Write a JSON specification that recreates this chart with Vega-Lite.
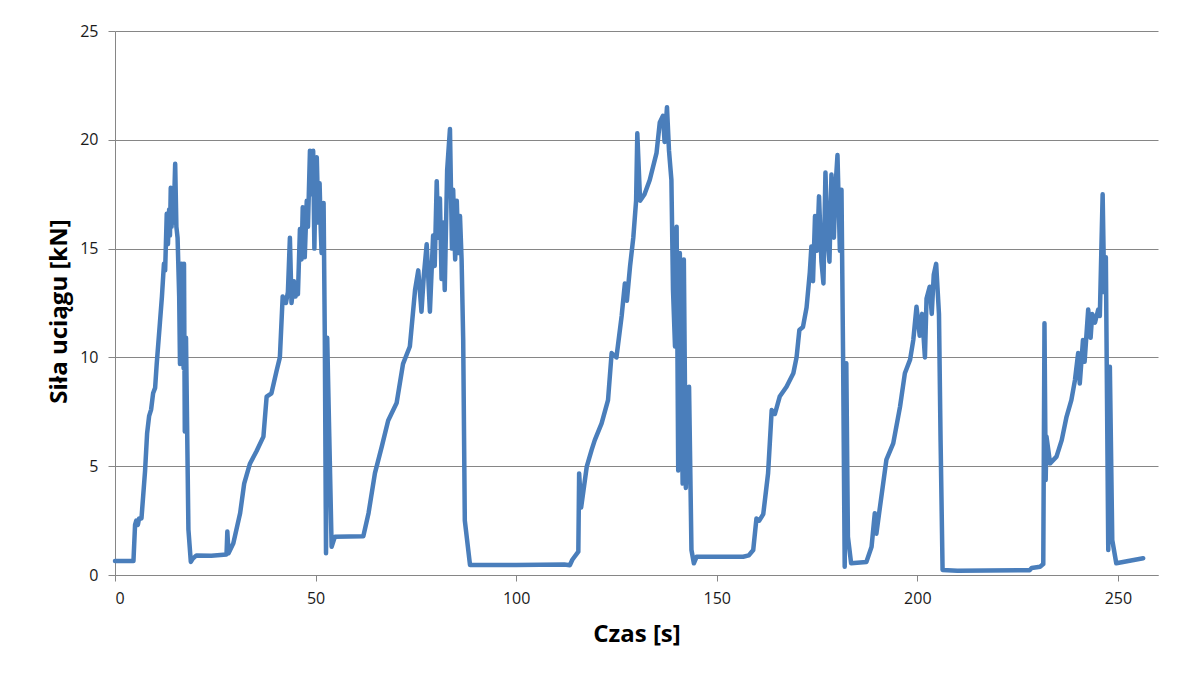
{
  "$schema": "https://vega.github.io/schema/vega-lite/v6.json",
  "width": 1043,
  "height": 544,
  "autosize": {"type": "none"},
  "padding": {"left": 115, "top": 31, "right": 30, "bottom": 100},
  "background": "white",
  "config": {"view": {"stroke": null}, "font": "Open Sans"},
  "data": {
    "values": [
      {"t": 0, "v": 0.64}, {"t": 4.6, "v": 0.64}, {"t": 5.0, "v": 2.3}, {"t": 5.3, "v": 2.5}, {"t": 5.7, "v": 2.3}, {"t": 6.0, "v": 2.6}, {"t": 6.6, "v": 2.6},
      {"t": 7.5, "v": 4.8}, {"t": 8.0, "v": 6.5}, {"t": 8.5, "v": 7.3}, {"t": 9.0, "v": 7.6}, {"t": 9.5, "v": 8.35}, {"t": 10.0, "v": 8.6}, {"t": 10.4, "v": 9.7},
      {"t": 11.2, "v": 11.6}, {"t": 11.7, "v": 12.8}, {"t": 12.2, "v": 14.3}, {"t": 12.5, "v": 14.0}, {"t": 12.9, "v": 16.6}, {"t": 13.2, "v": 15.2}, {"t": 13.5, "v": 16.8},
      {"t": 13.7, "v": 15.6}, {"t": 13.9, "v": 17.8}, {"t": 14.1, "v": 16.0}, {"t": 14.3, "v": 17.5}, {"t": 14.6, "v": 16.2}, {"t": 15.0, "v": 18.9}, {"t": 15.3, "v": 16.0}, {"t": 15.6, "v": 15.5}, {"t": 16.0, "v": 12.8},
      {"t": 16.2, "v": 9.7}, {"t": 16.4, "v": 13.6}, {"t": 16.6, "v": 14.3}, {"t": 16.8, "v": 10.0}, {"t": 16.9, "v": 13.0}, {"t": 17.1, "v": 9.5}, {"t": 17.2, "v": 14.3}, {"t": 17.4, "v": 6.6}, {"t": 17.7, "v": 10.9}, {"t": 18.3, "v": 2.1},
      {"t": 18.9, "v": 0.6}, {"t": 19.4, "v": 0.75}, {"t": 20.3, "v": 0.9}, {"t": 24, "v": 0.88}, {"t": 27.8, "v": 0.94}, {"t": 28.0, "v": 2.0}, {"t": 28.3, "v": 1.0},
      {"t": 29.5, "v": 1.46}, {"t": 31.2, "v": 2.85}, {"t": 32.2, "v": 4.2}, {"t": 33.6, "v": 5.1}, {"t": 35.3, "v": 5.7}, {"t": 37.0, "v": 6.36}, {"t": 37.8, "v": 8.2},
      {"t": 39.0, "v": 8.35}, {"t": 40.3, "v": 9.4}, {"t": 41.1, "v": 10.0}, {"t": 41.8, "v": 12.8}, {"t": 42.6, "v": 12.5}, {"t": 43.1, "v": 13.0}, {"t": 43.6, "v": 15.5},
      {"t": 44.0, "v": 12.5}, {"t": 44.6, "v": 13.5}, {"t": 45.0, "v": 12.8}, {"t": 45.3, "v": 13.4}, {"t": 45.6, "v": 12.9}, {"t": 46.1, "v": 15.9}, {"t": 46.5, "v": 14.5}, {"t": 46.8, "v": 16.9}, {"t": 47.3, "v": 14.6}, {"t": 47.8, "v": 17.2},
      {"t": 48.1, "v": 16.0}, {"t": 48.6, "v": 19.5}, {"t": 49.0, "v": 17.5}, {"t": 49.4, "v": 19.5}, {"t": 49.7, "v": 15.0}, {"t": 50.0, "v": 18.5}, {"t": 50.3, "v": 19.2}, {"t": 50.7, "v": 16.2}, {"t": 51.0, "v": 18.0},
      {"t": 51.3, "v": 15.8}, {"t": 51.5, "v": 14.8}, {"t": 52.0, "v": 17.1}, {"t": 52.3, "v": 10.95}, {"t": 52.6, "v": 1.0}, {"t": 52.9, "v": 10.9}, {"t": 53.4, "v": 6.5}, {"t": 54.0, "v": 1.3},
      {"t": 54.8, "v": 1.76}, {"t": 61.9, "v": 1.78}, {"t": 63.2, "v": 2.84}, {"t": 64.8, "v": 4.68}, {"t": 66.5, "v": 5.9}, {"t": 68.1, "v": 7.1}, {"t": 70.2, "v": 7.9},
      {"t": 71.8, "v": 9.7}, {"t": 73.5, "v": 10.5}, {"t": 74.8, "v": 13.1}, {"t": 75.6, "v": 14.0}, {"t": 76.4, "v": 12.1}, {"t": 77.0, "v": 13.8}, {"t": 77.7, "v": 15.2}, {"t": 78.5, "v": 12.1},
      {"t": 79.3, "v": 15.6}, {"t": 79.7, "v": 14.2}, {"t": 80.2, "v": 18.1}, {"t": 80.6, "v": 15.5}, {"t": 81.0, "v": 17.3}, {"t": 81.4, "v": 13.6}, {"t": 81.8, "v": 16.2}, {"t": 82.2, "v": 13.1}, {"t": 82.8, "v": 18.6}, {"t": 83.5, "v": 20.5},
      {"t": 84.0, "v": 15.0}, {"t": 84.3, "v": 17.7}, {"t": 84.8, "v": 14.5}, {"t": 85.2, "v": 17.2}, {"t": 85.6, "v": 14.8}, {"t": 86.0, "v": 16.5}, {"t": 86.4, "v": 14.5}, {"t": 86.8, "v": 10.8},
      {"t": 87.2, "v": 2.5}, {"t": 88.5, "v": 0.46}, {"t": 100, "v": 0.46}, {"t": 112, "v": 0.48}, {"t": 113.4, "v": 0.45}, {"t": 114.0, "v": 0.7}, {"t": 115.5, "v": 1.07},
      {"t": 115.7, "v": 4.67}, {"t": 116.2, "v": 3.1}, {"t": 117.6, "v": 4.98}, {"t": 118.8, "v": 5.74}, {"t": 119.6, "v": 6.2}, {"t": 121.3, "v": 6.97}, {"t": 122.9, "v": 8.04},
      {"t": 123.8, "v": 10.2}, {"t": 125.0, "v": 10.0}, {"t": 126.3, "v": 11.9}, {"t": 127.1, "v": 13.4}, {"t": 127.6, "v": 12.6}, {"t": 128.4, "v": 14.2}, {"t": 129.2, "v": 15.5},
      {"t": 129.9, "v": 17.2}, {"t": 130.2, "v": 20.3}, {"t": 130.9, "v": 17.2}, {"t": 132.0, "v": 17.5}, {"t": 133.3, "v": 18.15}, {"t": 135.0, "v": 19.4}, {"t": 135.8, "v": 20.8},
      {"t": 136.6, "v": 21.1}, {"t": 137.0, "v": 19.9}, {"t": 137.6, "v": 21.5}, {"t": 138.1, "v": 19.5}, {"t": 138.7, "v": 18.15}, {"t": 139.1, "v": 13.1}, {"t": 139.6, "v": 10.5},
      {"t": 140.0, "v": 16.0}, {"t": 140.4, "v": 4.8}, {"t": 140.8, "v": 14.8}, {"t": 141.5, "v": 4.2}, {"t": 141.8, "v": 14.5}, {"t": 142.3, "v": 4.0}, {"t": 143.1, "v": 8.65},
      {"t": 143.7, "v": 1.15}, {"t": 144.3, "v": 0.54}, {"t": 145.0, "v": 0.84}, {"t": 156.6, "v": 0.84}, {"t": 158.0, "v": 0.9}, {"t": 159.1, "v": 1.15}, {"t": 159.9, "v": 2.6},
      {"t": 160.6, "v": 2.5}, {"t": 161.6, "v": 2.8}, {"t": 162.8, "v": 4.67}, {"t": 163.7, "v": 7.58}, {"t": 164.5, "v": 7.4}, {"t": 165.7, "v": 8.2}, {"t": 167.4, "v": 8.65},
      {"t": 169.1, "v": 9.27}, {"t": 169.9, "v": 10.0}, {"t": 170.6, "v": 11.26}, {"t": 171.5, "v": 11.4}, {"t": 172.4, "v": 12.3}, {"t": 173.2, "v": 13.9}, {"t": 173.6, "v": 15.1},
      {"t": 174.0, "v": 13.5}, {"t": 174.5, "v": 16.5}, {"t": 175.0, "v": 14.9}, {"t": 175.5, "v": 17.4}, {"t": 176.1, "v": 14.4}, {"t": 176.6, "v": 13.4}, {"t": 177.1, "v": 18.5},
      {"t": 177.6, "v": 15.5}, {"t": 178.1, "v": 14.4}, {"t": 178.6, "v": 18.4}, {"t": 179.2, "v": 15.5}, {"t": 179.6, "v": 17.8}, {"t": 180.1, "v": 19.3}, {"t": 180.7, "v": 14.9}, {"t": 181.1, "v": 17.7},
      {"t": 181.5, "v": 10.0}, {"t": 181.9, "v": 0.38}, {"t": 182.3, "v": 9.73}, {"t": 182.7, "v": 1.76}, {"t": 183.5, "v": 0.54}, {"t": 187.3, "v": 0.6}, {"t": 188.6, "v": 1.3},
      {"t": 189.4, "v": 2.84}, {"t": 189.8, "v": 1.9}, {"t": 190.7, "v": 3.14}, {"t": 192.3, "v": 5.3}, {"t": 194.0, "v": 6.05}, {"t": 195.7, "v": 7.74}, {"t": 196.9, "v": 9.27},
      {"t": 198.2, "v": 9.9}, {"t": 199.0, "v": 10.8}, {"t": 199.8, "v": 12.33}, {"t": 200.6, "v": 11.0}, {"t": 201.2, "v": 12.0}, {"t": 201.9, "v": 10.0}, {"t": 202.3, "v": 12.7},
      {"t": 203.1, "v": 13.25}, {"t": 203.6, "v": 12.0}, {"t": 204.1, "v": 13.8}, {"t": 204.7, "v": 14.3}, {"t": 205.4, "v": 12.0}, {"t": 205.8, "v": 6.2}, {"t": 206.3, "v": 0.23},
      {"t": 210, "v": 0.2}, {"t": 228, "v": 0.22}, {"t": 228.5, "v": 0.32}, {"t": 230.6, "v": 0.38}, {"t": 231.4, "v": 0.5}, {"t": 231.7, "v": 11.57}, {"t": 232.0, "v": 4.37},
      {"t": 232.2, "v": 6.36}, {"t": 233.1, "v": 5.13}, {"t": 234.7, "v": 5.44}, {"t": 236.0, "v": 6.2}, {"t": 237.2, "v": 7.27}, {"t": 238.4, "v": 8.04}, {"t": 239.3, "v": 8.96},
      {"t": 240.1, "v": 10.2}, {"t": 240.5, "v": 8.8}, {"t": 241.3, "v": 10.8}, {"t": 241.7, "v": 9.8}, {"t": 242.6, "v": 12.2}, {"t": 243.2, "v": 10.9}, {"t": 243.6, "v": 12.0},
      {"t": 244.3, "v": 11.6}, {"t": 245.1, "v": 12.2}, {"t": 245.5, "v": 11.9}, {"t": 246.2, "v": 17.5}, {"t": 246.6, "v": 13.0}, {"t": 247.0, "v": 14.6}, {"t": 247.6, "v": 1.15},
      {"t": 248.0, "v": 9.57}, {"t": 248.6, "v": 1.6}, {"t": 249.6, "v": 0.54}, {"t": 256.3, "v": 0.77}
    ]
  },
  "mark": {"type": "line", "color": "#4A7EBB", "strokeWidth": 4.5, "strokeJoin": "round", "strokeCap": "round"},
  "encoding": {
    "x": {
      "field": "t", "type": "quantitative",
      "scale": {"domain": [0, 260], "nice": false, "zero": false},
      "axis": {
        "values": [0, 50, 100, 150, 200, 250],
        "title": "Czas [s]",
        "grid": false,
        "domainColor": "#868686", "tickColor": "#868686", "tickSize": 6,
        "labelFontSize": 16, "labelColor": "#1a1a1a", "labelPadding": 9,
        "titleFontSize": 24, "titleFontWeight": "bold", "titleColor": "#000000", "titlePadding": 16
      }
    },
    "y": {
      "field": "v", "type": "quantitative",
      "scale": {"domain": [0, 25], "nice": false},
      "axis": {
        "values": [0, 5, 10, 15, 20, 25],
        "title": "Siła uciągu [kN]",
        "titleY": 280,
        "grid": true, "gridColor": "#868686", "gridWidth": 1,
        "domainColor": "#868686", "tickColor": "#868686", "tickSize": 7,
        "labelFontSize": 16, "labelColor": "#1a1a1a", "labelPadding": 10,
        "titleFontSize": 24, "titleFontWeight": "bold", "titleColor": "#000000", "titlePadding": 8
      }
    }
  }
}
